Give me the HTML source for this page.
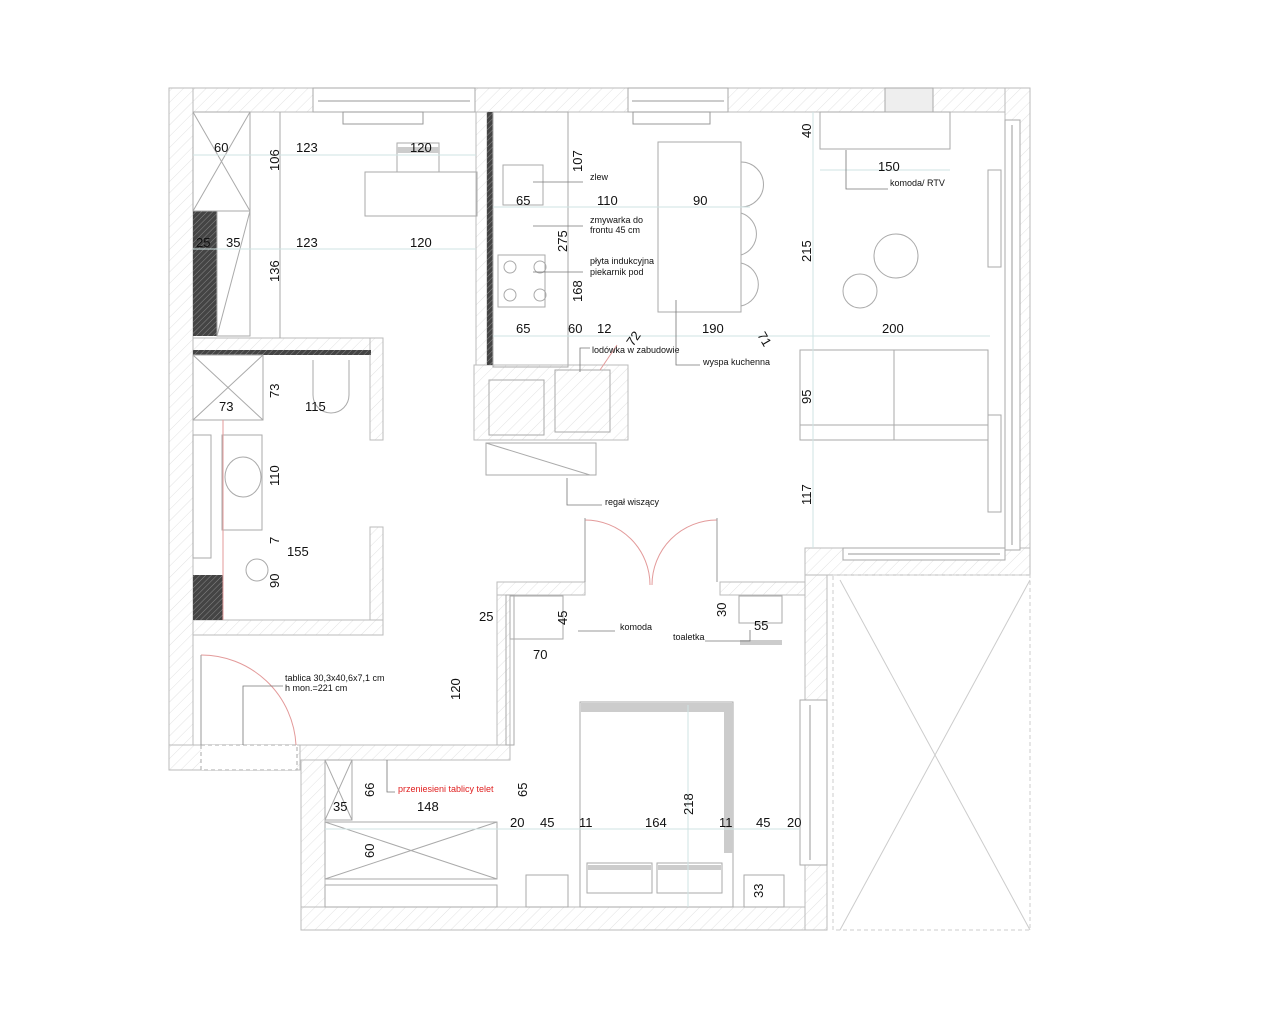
<!DOCTYPE html>
<html><head><meta charset="utf-8"><style>
html,body{margin:0;padding:0;background:#fff;width:1280px;height:1024px;overflow:hidden}
svg{display:block}
text{font-family:"Liberation Sans",sans-serif;fill:#111}
.d{font-size:13px}
.s{font-size:9px}
</style></head><body>
<svg width="1280" height="1024" viewBox="0 0 1280 1024">
<defs>
<pattern id="h" patternUnits="userSpaceOnUse" width="8" height="8" patternTransform="rotate(45)">
<rect width="8" height="8" fill="#fff"/><line x1="0" y1="0" x2="0" y2="8" stroke="#e2e2e2" stroke-width="1"/></pattern>
<pattern id="dk" patternUnits="userSpaceOnUse" width="4" height="4" patternTransform="rotate(45)">
<rect width="4" height="4" fill="#444"/><line x1="0" y1="0" x2="0" y2="4" stroke="#888" stroke-width="1"/></pattern>
</defs>
<g stroke="#bbb" stroke-width="1" fill="url(#h)">
<!-- outer walls -->
<rect x="169" y="88" width="861" height="24"/>
<rect x="169" y="88" width="24" height="682"/>
<rect x="1005" y="88" width="25" height="472"/>
<rect x="169" y="745" width="131" height="25"/>
<rect x="301" y="745" width="24" height="185"/>
<rect x="301" y="907" width="526" height="23"/>
<rect x="805" y="575" width="22" height="355"/>
<rect x="805" y="548" width="225" height="27"/>
<!-- interior -->
<rect x="193" y="338" width="190" height="14"/>
<rect x="370" y="338" width="13" height="102"/>
<rect x="370" y="527" width="13" height="108"/>
<rect x="193" y="620" width="190" height="15"/>
<rect x="474" y="365" width="154" height="75"/>
<rect x="497" y="582" width="88" height="13"/>
<rect x="497" y="595" width="13" height="155"/>
<rect x="720" y="582" width="85" height="13"/>
<rect x="300" y="745" width="210" height="15"/>
<rect x="476" y="112" width="11" height="253"/>
</g>
<!-- window openings -->
<g fill="#fff" stroke="#aaa">
<rect x="313" y="88" width="162" height="24"/>
<rect x="628" y="88" width="100" height="24"/>
<rect x="885" y="88" width="48" height="24" fill="#eee"/>
<rect x="1005" y="120" width="15" height="430"/>
<rect x="843" y="548" width="162" height="12"/>
<rect x="800" y="700" width="27" height="165"/>
<rect x="201" y="745" width="96" height="25" stroke-dasharray="4 3"/>
</g>
<g fill="none" stroke="#999" stroke-width="1">
<line x1="318" y1="101" x2="470" y2="101"/><line x1="632" y1="101" x2="724" y2="101"/>
<rect x="343" y="112" width="80" height="12"/><rect x="633" y="112" width="77" height="12"/>
<line x1="1012" y1="125" x2="1012" y2="545"/><line x1="848" y1="554" x2="1000" y2="554"/>
<line x1="810" y1="705" x2="810" y2="860"/>
</g>
<!-- dark strips -->
<rect x="193" y="211" width="24" height="125" fill="url(#dk)"/>
<rect x="193" y="575" width="30" height="45" fill="url(#dk)"/>
<rect x="487" y="112" width="6" height="253" fill="url(#dk)"/>
<rect x="193" y="350" width="178" height="5" fill="url(#dk)"/>
<!-- furniture -->
<g fill="none" stroke="#aaa" stroke-width="1">
<rect x="193" y="112" width="57" height="99"/><line x1="193" y1="112" x2="250" y2="211"/><line x1="250" y1="112" x2="193" y2="211"/>
<rect x="217" y="211" width="33" height="125"/><line x1="217" y1="336" x2="250" y2="211"/>
<line x1="280" y1="112" x2="280" y2="338"/>
<rect x="365" y="172" width="112" height="44"/>
<rect x="397" y="143" width="42" height="29"/>
<rect x="193" y="355" width="70" height="65"/><line x1="193" y1="355" x2="263" y2="420"/><line x1="263" y1="355" x2="193" y2="420"/>
<path d="M313 360 V395 A18 18 0 0 0 349 395 V360"/>
<rect x="193" y="435" width="18" height="123"/>
<rect x="222" y="435" width="40" height="95"/><ellipse cx="243" cy="477" rx="18" ry="20"/>
<circle cx="257" cy="570" r="11"/>
<rect x="493" y="112" width="75" height="255"/>
<rect x="503" y="165" width="40" height="40"/>
<rect x="498" y="255" width="47" height="52"/>
<circle cx="510" cy="267" r="6"/><circle cx="540" cy="267" r="6"/><circle cx="510" cy="295" r="6"/><circle cx="540" cy="295" r="6"/>
<rect x="489" y="380" width="55" height="55"/>
<rect x="555" y="370" width="55" height="62"/>
<rect x="486" y="443" width="110" height="32"/><line x1="486" y1="443" x2="590" y2="475"/>
<rect x="658" y="142" width="83" height="170"/>
<path d="M741 162 A22 22 0 0 1 741 207"/><path d="M741 213 A22 22 0 0 1 741 255"/><path d="M741 263 A22 22 0 0 1 741 306"/>
<rect x="820" y="112" width="130" height="37"/>
<circle cx="896" cy="256" r="22"/><circle cx="860" cy="291" r="17"/>
<rect x="988" y="170" width="13" height="97"/>
<rect x="988" y="415" width="13" height="97"/>
<rect x="800" y="350" width="188" height="90"/><line x1="894" y1="350" x2="894" y2="440"/><line x1="800" y1="425" x2="988" y2="425"/>
<rect x="510" y="596" width="53" height="43"/>
<rect x="739" y="596" width="43" height="27"/>
<rect x="580" y="702" width="153" height="205"/>
<rect x="587" y="863" width="65" height="30"/><rect x="657" y="863" width="65" height="30"/>
<rect x="526" y="875" width="42" height="32"/><rect x="744" y="875" width="40" height="32"/>
<rect x="325" y="760" width="27" height="60"/><line x1="325" y1="760" x2="352" y2="820"/><line x1="352" y1="760" x2="325" y2="820"/>
<rect x="325" y="822" width="172" height="57"/><line x1="325" y1="822" x2="497" y2="879"/><line x1="497" y1="822" x2="325" y2="879"/>
<rect x="325" y="885" width="172" height="22"/>
<rect x="506" y="595" width="8" height="150"/>
</g>
<g fill="#ccc"><rect x="581" y="703" width="152" height="9"/><rect x="724" y="703" width="9" height="150"/>
<rect x="588" y="865" width="63" height="5"/><rect x="658" y="865" width="63" height="5"/><rect x="740" y="640" width="42" height="5"/><rect x="397" y="147" width="42" height="6"/></g>
<g fill="none" stroke="#ccc"><path d="M840 580 L1030 930 M1030 580 L840 930"/>
<rect x="833" y="575" width="197" height="355" stroke-dasharray="4 3"/></g>
<!-- doors -->
<g fill="none" stroke="#e39a9a" stroke-width="1">
<path d="M585 520 A65 65 0 0 1 650 585"/><path d="M717 520 A65 65 0 0 0 652 585"/>
<path d="M201 655 A95 95 0 0 1 296 745"/>
<line x1="617" y1="345" x2="600" y2="370"/>
<line x1="223" y1="420" x2="223" y2="620"/>
</g>
<g stroke="#999"><line x1="585" y1="518" x2="585" y2="582"/><line x1="717" y1="518" x2="717" y2="582"/><line x1="201" y1="655" x2="201" y2="745"/></g>
<!-- dim lines -->
<g stroke="#cfe3e3" stroke-width="1">
<line x1="193" y1="155" x2="476" y2="155"/><line x1="193" y1="249" x2="476" y2="249"/>
<line x1="493" y1="207" x2="750" y2="207"/><line x1="493" y1="336" x2="990" y2="336"/>
<line x1="813" y1="112" x2="813" y2="548"/><line x1="820" y1="170" x2="950" y2="170"/>
<line x1="325" y1="829" x2="800" y2="829"/><line x1="688" y1="705" x2="688" y2="907"/>
</g>
<!-- labels -->
<g class="d">
<text x="214" y="152">60</text><text x="296" y="152">123</text><text x="410" y="152">120</text>
<text x="196" y="247">25</text><text x="226" y="247">35</text><text x="296" y="247">123</text><text x="410" y="247">120</text>
<text x="219" y="411">73</text><text x="305" y="411">115</text><text x="287" y="556">155</text>
<text x="516" y="205">65</text><text x="597" y="205">110</text><text x="693" y="205">90</text>
<text x="516" y="333">65</text><text x="568" y="333">60</text><text x="597" y="333">12</text><text x="702" y="333">190</text><text x="882" y="333">200</text>
<text x="878" y="171">150</text>
<text x="479" y="621">25</text><text x="533" y="659">70</text><text x="754" y="630">55</text>
<text x="333" y="811">35</text><text x="417" y="811">148</text>
<text x="510" y="827">20</text><text x="540" y="827">45</text><text x="579" y="827">11</text><text x="645" y="827">164</text><text x="719" y="827">11</text><text x="756" y="827">45</text><text x="787" y="827">20</text>
</g>
<g class="d">
<text transform="translate(279,171) rotate(-90)">106</text>
<text transform="translate(279,282) rotate(-90)">136</text>
<text transform="translate(279,398) rotate(-90)">73</text>
<text transform="translate(279,486) rotate(-90)">110</text>
<text transform="translate(279,544) rotate(-90)">7</text>
<text transform="translate(279,588) rotate(-90)">90</text>
<text transform="translate(582,172) rotate(-90)">107</text>
<text transform="translate(567,252) rotate(-90)">275</text>
<text transform="translate(582,302) rotate(-90)">168</text>
<text transform="translate(811,138) rotate(-90)">40</text>
<text transform="translate(811,262) rotate(-90)">215</text>
<text transform="translate(811,404) rotate(-90)">95</text>
<text transform="translate(811,505) rotate(-90)">117</text>
<text transform="translate(567,625) rotate(-90)">45</text>
<text transform="translate(726,617) rotate(-90)">30</text>
<text transform="translate(460,700) rotate(-90)">120</text>
<text transform="translate(374,797) rotate(-90)">66</text>
<text transform="translate(527,797) rotate(-90)">65</text>
<text transform="translate(374,858) rotate(-90)">60</text>
<text transform="translate(693,815) rotate(-90)">218</text>
<text transform="translate(763,898) rotate(-90)">33</text>
<text transform="translate(633,347) rotate(-55)">72</text>
<text transform="translate(757,335) rotate(60)">71</text>
</g>
<g class="s">
<text x="590" y="180">zlew</text>
<text x="590" y="223">zmywarka do</text><text x="590" y="233">frontu 45 cm</text>
<text x="590" y="264">płyta indukcyjna</text><text x="590" y="275">piekarnik pod</text>
<text x="592" y="353">lodówka w zabudowie</text>
<text x="703" y="365">wyspa kuchenna</text>
<text x="890" y="186">komoda/ RTV</text>
<text x="605" y="505">regał wiszący</text>
<text x="620" y="630">komoda</text>
<text x="673" y="640">toaletka</text>
<text x="285" y="681">tablica 30,3x40,6x7,1 cm</text><text x="285" y="691">h mon.=221 cm</text>
<text x="398" y="792" style="fill:#e02020">przeniesieni tablicy telet</text>
</g>
<g stroke="#777" fill="none" stroke-width="0.8">
<path d="M583 182 H533"/><path d="M583 226 H533"/><path d="M583 272 H533"/>
<path d="M590 348 H580 V372"/><path d="M700 365 H676 V300"/><path d="M888 189 H846 V150"/>
<path d="M602 505 H567 V478"/><path d="M615 631 H578"/><path d="M705 641 H750 V630"/>
<path d="M283 686 H243 V745"/><path d="M395 792 H387 V760"/>
</g>
</svg>
</body></html>
